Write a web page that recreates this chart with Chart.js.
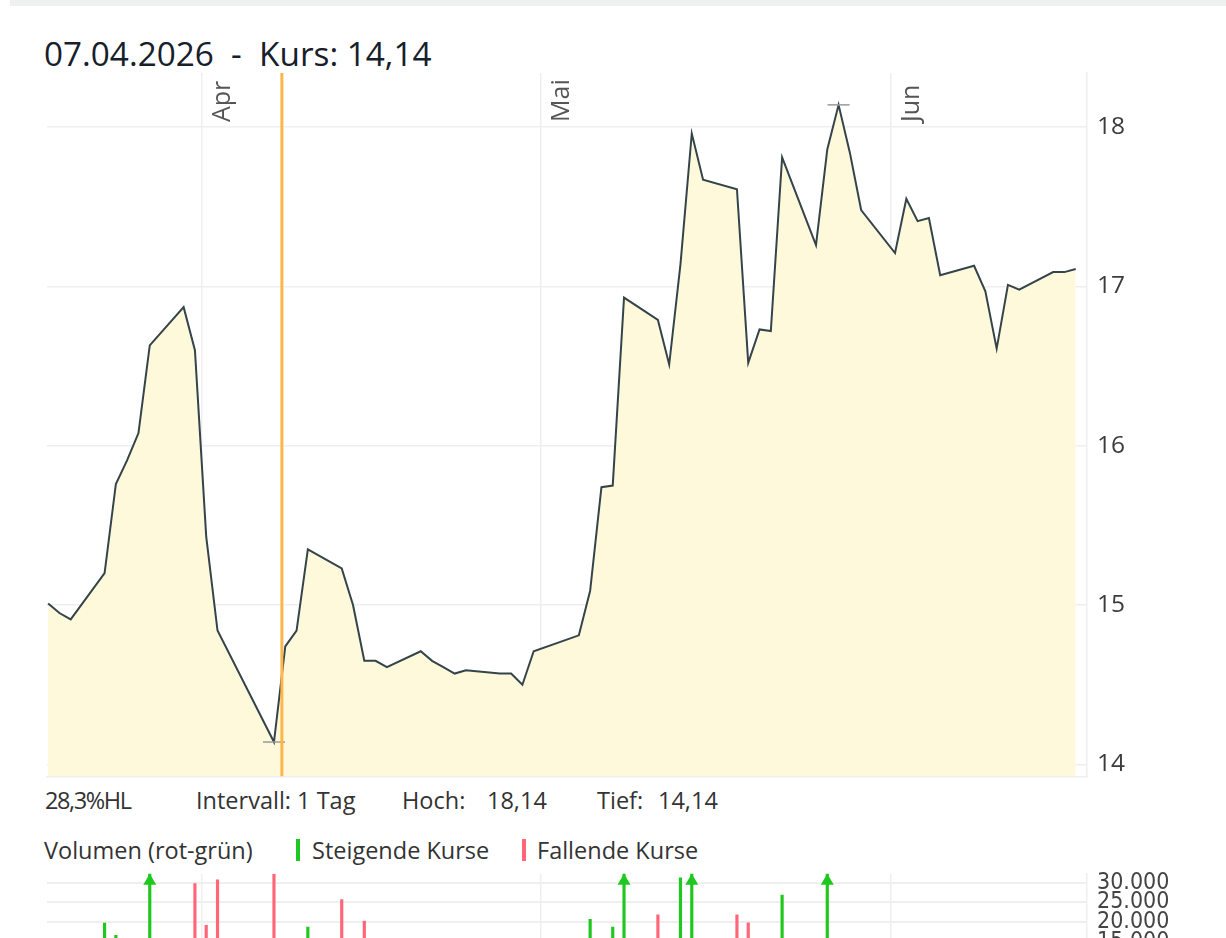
<!DOCTYPE html>
<html>
<head>
<meta charset="utf-8">
<script src="https://cdn.jsdelivr.net/npm/chart.js@4.4.1/dist/chart.umd.min.js"></script>
<style>
    html, body { margin: 0; padding: 0; background: #fff; overflow: hidden; width: 1226px; height: 938px; }
    body { position: relative; font-family: 'Open Sans', sans-serif; color: #333; }
    .topbar { position: absolute; left: 10px; top: 0; width: 1216px; height: 6px; background: #eff0f0; }
    .txt { position: absolute; white-space: pre; }
    #title { left: 44px; top: 33px; font-size: 33.3px; line-height: 40px; color: #16202a; }
    .info { top: 785px; font-size: 23.5px; line-height: 30px; color: #333; }
    .leg { top: 835px; font-size: 23.5px; line-height: 30px; color: #333; }
    .mark { position: absolute; top: 839px; width: 4px; height: 22px; }
    canvas { position: absolute; left: 0; }
</style>
</head>
<body>
<div class="topbar"></div>
<div id="title" class="txt"></div>

<div id="hl" class="txt info" style="left:45px; letter-spacing:-1.4px"></div>
<div class="txt info" style="left:196px">Intervall: 1 Tag</div>
<div class="txt info" style="left:402px">Hoch:</div>
<div id="hoch" class="txt info" style="left:487px"></div>
<div class="txt info" style="left:597px">Tief:</div>
<div id="tief" class="txt info" style="left:658px"></div>

<div class="txt leg" style="left:44px">Volumen (rot-grün)</div>
<div class="mark" style="left:296px; background:#1fc81f"></div>
<div class="txt leg" style="left:312px">Steigende Kurse</div>
<div class="mark" style="left:522px; background:#ff6677"></div>
<div class="txt leg" style="left:537px">Fallende Kurse</div>

<canvas id="kursChart" width="1226" height="791" style="top:0"></canvas>
<canvas id="volumenChart" width="1226" height="155" style="top:860px"></canvas>

<script>
// Handelstage und Schlusskurse
const dates = [
    '2026-03-18', '2026-03-19', '2026-03-20', '2026-03-23', '2026-03-24', '2026-03-25', '2026-03-26', '2026-03-27', '2026-03-30', '2026-03-31',
    '2026-04-01', '2026-04-02', '2026-04-07', '2026-04-08', '2026-04-09', '2026-04-10', '2026-04-13', '2026-04-14', '2026-04-15', '2026-04-16',
    '2026-04-17', '2026-04-20', '2026-04-21', '2026-04-22', '2026-04-23', '2026-04-24', '2026-04-27', '2026-04-28', '2026-04-29', '2026-04-30',
    '2026-05-04', '2026-05-05', '2026-05-06', '2026-05-07', '2026-05-08', '2026-05-11', '2026-05-12', '2026-05-13', '2026-05-14', '2026-05-15',
    '2026-05-18', '2026-05-19', '2026-05-20', '2026-05-21', '2026-05-22', '2026-05-25', '2026-05-26', '2026-05-27', '2026-05-28', '2026-05-29',
    '2026-06-01', '2026-06-02', '2026-06-03', '2026-06-04', '2026-06-05', '2026-06-08', '2026-06-09', '2026-06-10', '2026-06-11', '2026-06-12',
    '2026-06-15', '2026-06-16', '2026-06-17'
];
const kurse = [
    15.01, 14.95, 14.91, 15.20, 15.76, 15.91, 16.08, 16.63, 16.87, 16.60,
    15.43, 14.84, 14.14, 14.74, 14.84, 15.35, 15.23, 15.00, 14.65, 14.65,
    14.61, 14.71, 14.65, 14.61, 14.57, 14.59, 14.57, 14.57, 14.50, 14.71,
    14.81, 15.09, 15.74, 15.75, 16.93, 16.79, 16.51, 17.14, 17.96, 17.67,
    17.61, 16.52, 16.73, 16.72, 17.81, 17.26, 17.86, 18.14, 17.84, 17.48,
    17.21, 17.55, 17.41, 17.43, 17.07, 17.13, 16.97, 16.61, 17.01, 16.98,
    17.09, 17.09, 17.11
];
const volumen = [
    9000, 7000, 11000, 19750, 16700, 12000, 10000, 45000, 14000, 29750,
    19200, 30700, 32200, 13000, 9000, 18750, 25750, 12000, 20250, 8000,
    7000, 9000, 6000, 7000, 8000, 5000, 6000, 5000, 9000, 12000,
    10000, 20700, 15000, 18750, 48000, 21850, 14000, 31250, 52000, 15000,
    21850, 19850, 11000, 8000, 26850, 14000, 42000, 15000, 12000, 13000,
    10000, 12000, 9000, 6000, 11000, 8000, 9000, 14000, 10000, 7000,
    8000, 5000, 6000
];

const monatsAnfang = ['2026-04-01', '2026-05-01', '2026-06-01'];
const monatsNamen = ['Apr', 'Mai', 'Jun'];
const kursTicks = [14, 15, 16, 17, 18];
const volumenTicks = [0, 5000, 10000, 15000, 20000, 25000, 30000];
const cursorDatum = '2026-04-07';

// Tage relativ zum 1. April, Kurszeitpunkt etwas nach Mitternacht
const basis = Date.UTC(2026, 3, 1);
function tag(s) {
    const [y, m, d] = s.split('-').map(Number);
    return (Date.UTC(y, m - 1, d) - basis) / 864e5;
}
const kursZeit = 0.4;
const xWerte = dates.map(d => tag(d) + kursZeit);
const xMin = xWerte[0] - 0.1;
const xMax = xWerte[xWerte.length - 1] + 1.0;
const cursorX = tag(cursorDatum) + 1.1;

const deZahl = (v, n) => v.toFixed(n).replace('.', ',');
const tausender = v => String(v).replace(/\B(?=(\d{3})+(?!\d))/g, '.');

const hoch = Math.max(...kurse);
const tief = Math.min(...kurse);
const cursorKurs = kurse[dates.indexOf(cursorDatum)];
const [cy, cm, cd] = cursorDatum.split('-');
document.getElementById('title').textContent = cd + '.' + cm + '.' + cy + '  -  Kurs: ' + deZahl(cursorKurs, 2);
document.getElementById('hl').textContent = deZahl((hoch / tief - 1) * 100, 1) + '%HL';
document.getElementById('hoch').textContent = deZahl(hoch, 2);
document.getElementById('tief').textContent = deZahl(tief, 2);

const gruen = '#1fc81f';
const rot = '#ff6677';
const farben = kurse.map((k, i) => (i > 0 && k < kurse[i - 1]) ? rot : gruen);

const gitter = '#efefef';

function xAchse() {
    return {
        type: 'linear',
        min: xMin,
        max: xMax,
        offset: false,
        afterBuildTicks: s => { s.ticks = monatsAnfang.map(m => ({ value: tag(m) })); },
        afterFit: s => { s.height = 0; },
        ticks: { display: false },
        grid: { color: gitter, lineWidth: 1.5, drawTicks: false, offset: false },
        border: { color: gitter, width: 1.5 }
    };
}

const monatsLabels = {
    id: 'monatsLabels',
    afterDraw(chart) {
        const ctx = chart.ctx;
        const x = chart.scales.x;
        ctx.save();
        ctx.fillStyle = '#555';
        ctx.font = '25px "Open Sans"';
        ctx.textAlign = 'left';
        ctx.textBaseline = 'middle';
        monatsAnfang.forEach((m, i) => {
            ctx.save();
            ctx.translate(x.getPixelForValue(tag(m)) + 21, chart.chartArea.top + 49);
            ctx.rotate(-Math.PI / 2);
            ctx.fillText(monatsNamen[i], 0, 0);
            ctx.restore();
        });
        ctx.restore();
    }
};

const hochTief = {
    id: 'hochTief',
    afterDatasetsDraw(chart) {
        const ctx = chart.ctx;
        const x = chart.scales.x, y = chart.scales.y;
        ctx.save();
        ctx.strokeStyle = '#9a9a9a';
        ctx.lineWidth = 1.5;
        [kurse.indexOf(hoch), kurse.indexOf(tief)].forEach(i => {
            const px = x.getPixelForValue(xWerte[i]);
            const py = y.getPixelForValue(kurse[i]);
            ctx.beginPath();
            ctx.moveTo(px - 11, py);
            ctx.lineTo(px + 11, py);
            ctx.stroke();
        });
        ctx.restore();
    }
};

const cursorLinie = {
    id: 'cursorLinie',
    afterDatasetsDraw(chart) {
        const ctx = chart.ctx;
        const a = chart.chartArea;
        const px = chart.scales.x.getPixelForValue(cursorX);
        ctx.save();
        ctx.strokeStyle = '#ffb54a';
        ctx.lineWidth = 3;
        ctx.beginPath();
        ctx.moveTo(px, a.top);
        ctx.lineTo(px, a.bottom);
        ctx.stroke();
        ctx.restore();
    }
};

new Chart(document.getElementById('kursChart').getContext('2d'), {
    type: 'line',
    data: {
        datasets: [{
            data: xWerte.map((x, i) => ({ x: x, y: kurse[i] })),
            borderColor: '#35444a',
            borderWidth: 2,
            backgroundColor: '#fdf9da',
            fill: 'start',
            pointRadius: 0,
            tension: 0
        }]
    },
    options: {
        responsive: false,
        animation: false,
        layout: { padding: { left: 47, top: 73, bottom: 14, right: 0 } },
        plugins: { legend: { display: false }, tooltip: { enabled: false } },
        scales: {
            x: xAchse(),
            y: {
                position: 'right',
                min: 13.925,
                max: 18.34,
                afterBuildTicks: s => { s.ticks = kursTicks.map(v => ({ value: v })); },
                afterFit: s => { s.width = 139; },
                ticks: { padding: 0, autoSkip: false, color: '#3c3c3c', font: { family: 'Open Sans', size: 24.5 } },
                grid: { color: gitter, lineWidth: 1.5, drawTicks: true, tickLength: 10, tickColor: 'rgba(0,0,0,0)' },
                border: { color: gitter, width: 1.5 }
            }
        }
    },
    plugins: [monatsLabels, hochTief, cursorLinie]
});

const volumenMax = 32250;

const pfeile = {
    id: 'pfeile',
    afterDatasetsDraw(chart) {
        const ctx = chart.ctx;
        const top = chart.chartArea.top;
        const x = chart.scales.x;
        ctx.save();
        volumen.forEach((v, i) => {
            if (v <= volumenMax) return;
            const px = x.getPixelForValue(xWerte[i]);
            ctx.fillStyle = farben[i];
            ctx.beginPath();
            ctx.moveTo(px, top);
            ctx.lineTo(px + 6.5, top + 11);
            ctx.lineTo(px - 6.5, top + 11);
            ctx.closePath();
            ctx.fill();
        });
        ctx.restore();
    }
};

new Chart(document.getElementById('volumenChart').getContext('2d'), {
    type: 'bar',
    data: {
        datasets: [{
            data: xWerte.map((x, i) => ({ x: x, y: volumen[i] })),
            backgroundColor: farben,
            barThickness: 2.5
        }]
    },
    options: {
        responsive: false,
        animation: false,
        layout: { padding: { left: 47, top: 13, bottom: 13, right: 0 } },
        plugins: { legend: { display: false }, tooltip: { enabled: false } },
        scales: {
            x: xAchse(),
            y: {
                position: 'right',
                min: 0,
                max: volumenMax,
                afterBuildTicks: s => { s.ticks = volumenTicks.map(v => ({ value: v })); },
                afterFit: s => { s.width = 139; },
                ticks: {
                    padding: 0,
                    autoSkip: false,
                    color: '#444',
                    font: { family: 'DejaVu Sans Condensed', size: 23 },
                    callback: v => tausender(v)
                },
                grid: { color: gitter, lineWidth: 2, drawTicks: true, tickLength: 10, tickColor: 'rgba(0,0,0,0)' },
                border: { color: gitter, width: 1.5 }
            }
        }
    },
    plugins: [pfeile]
});
</script>
</body>
</html>
